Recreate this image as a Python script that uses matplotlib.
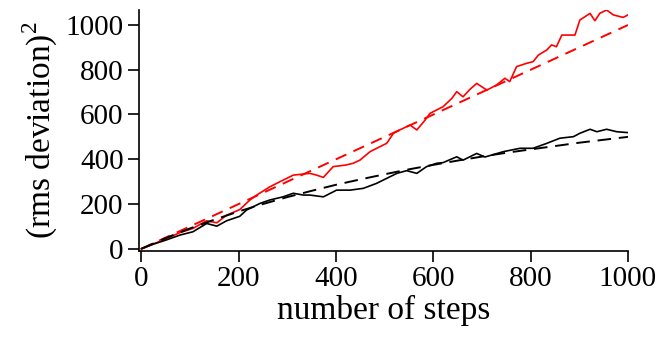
import matplotlib
matplotlib.use("Agg")
import matplotlib.pyplot as plt

plt.rcParams["font.family"] = "Liberation Serif"
plt.rcParams["mathtext.fontset"] = "custom"
plt.rcParams["mathtext.rm"] = "Liberation Serif"

# 2D walk: mean squared displacement vs steps
steps_2d = [0, 24, 52, 79, 106, 134, 155, 175, 202, 223, 237, 264, 285, 312, 333,
            346, 360, 374, 394, 420, 435, 449, 470, 490, 504, 518, 531, 552, 566,
            583, 593, 620, 638, 648, 661, 675, 689, 710, 730, 747, 757, 771, 792,
            805, 816, 833, 843, 853, 864, 881, 891, 901, 922, 932, 942, 956, 970,
            990, 1000]
msd_2d = [0, 21, 46, 72, 91, 125, 116, 150, 175, 218, 240, 277, 300, 329, 334,
          337, 329, 319, 367, 374, 382, 396, 434, 456, 471, 516, 531, 553, 531,
          575, 605, 635, 672, 702, 679, 712, 739, 709, 732, 762, 747, 814, 829,
          836, 866, 888, 911, 903, 955, 955, 955, 1022, 1052, 1019, 1052, 1067,
          1045, 1034, 1045]

# 1D walk
steps_1d = [0, 24, 52, 79, 106, 134, 155, 175, 202, 216, 244, 264, 291, 312, 333,
            346, 374, 401, 429, 456, 483, 497, 525, 545, 566, 586, 607, 620, 648,
            661, 689, 706, 744, 778, 805, 833, 860, 888, 901, 922, 936, 956, 977,
            1000]
msd_1d = [0, 20, 40, 61, 76, 113, 101, 125, 145, 173, 203, 218, 232, 248, 240,
          240, 232, 262, 262, 270, 292, 307, 337, 349, 337, 367, 382, 385, 411,
          396, 426, 410, 434, 449, 449, 471, 494, 501, 516, 534, 523, 534, 523,
          519]

# reference curves
fit_2d_x = [0, 1000]
fit_2d_y = [0, 1000]
fit_1d_x = [0, 50, 100, 150, 200, 250, 300, 350, 400, 450, 500,
            550, 600, 650, 700, 750, 800, 850, 900, 950, 1000]
fit_1d_y = [0, 48, 91, 130, 167, 200, 231, 259, 286, 310, 333,
            355, 375, 394, 412, 429, 444, 459, 474, 487, 500]

fig = plt.figure(figsize=(6.6, 3.39), dpi=100)
ax = fig.add_axes([0.2106, 0.2596, 0.7409, 0.7109])

ax.plot(steps_2d, msd_2d, color="red", lw=1.2)
ax.plot(steps_1d, msd_1d, color="black", lw=1.2)
ax.plot(fit_2d_x, fit_2d_y, color="red", lw=1.4, dashes=(6, 4))
ax.plot(fit_1d_x, fit_1d_y, color="black", lw=1.4, dashes=(7, 4))

ax.set_xlim(-5, 1000)
ax.set_ylim(-10, 1067)
ax.set_xticks([0, 200, 400, 600, 800, 1000])
ax.set_yticks([0, 200, 400, 600, 800, 1000])
for s in ["top", "right"]:
    ax.spines[s].set_visible(False)
for s in ["left", "bottom"]:
    ax.spines[s].set_linewidth(1.2)
ax.tick_params(direction="out", length=8, width=1.2, labelsize=21, pad=3)

ax.set_xlabel("number of steps", fontsize=24, labelpad=2)
ax.set_ylabel("(rms deviation)$^2$", fontsize=24, labelpad=4)

fig.savefig("out.png", dpi=100)
